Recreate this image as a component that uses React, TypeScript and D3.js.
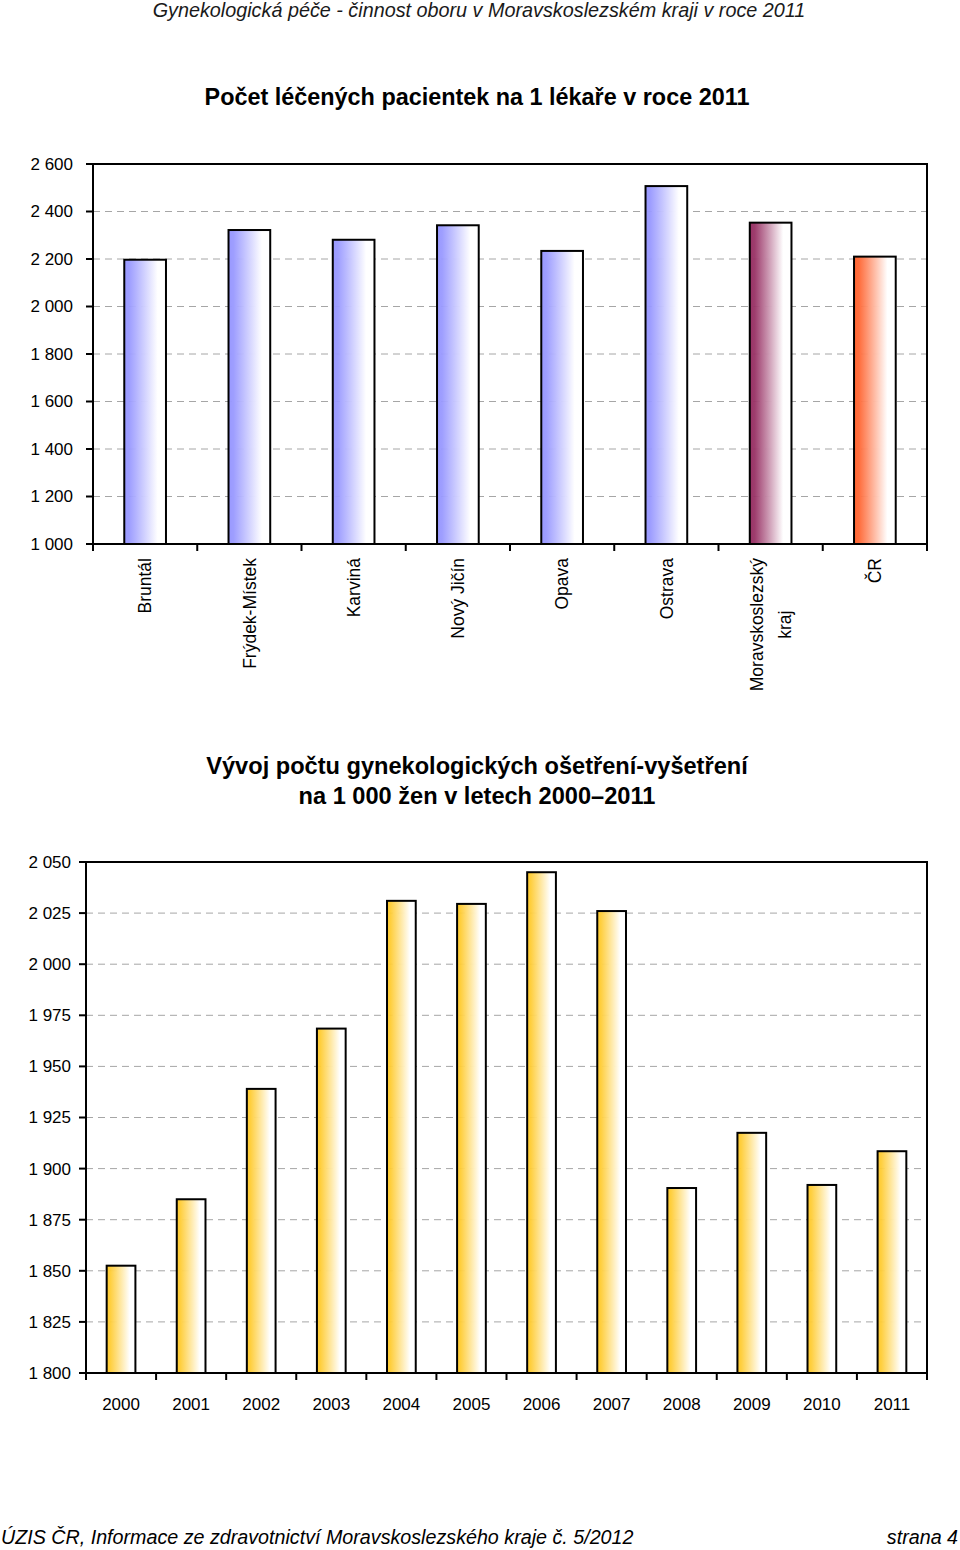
import React, { useEffect, useRef } from "react";
import * as d3 from "d3";

// ---------- Data ----------
const districts = ["Bruntál", "Frýdek-Místek", "Karviná", "Nový Jičín", "Opava", "Ostrava", "Moravskoslezský\nkraj", "ČR"];
const patientsPerDoctor = [2197, 2322, 2281, 2342, 2234, 2507, 2353, 2210];
const districtColors = ["#9999ff", "#9999ff", "#9999ff", "#9999ff", "#9999ff", "#9999ff", "#993366", "#ff6633"];
const chart1Ticks = [1000, 1200, 1400, 1600, 1800, 2000, 2200, 2400, 2600];

const years = ["2000", "2001", "2002", "2003", "2004", "2005", "2006", "2007", "2008", "2009", "2010", "2011"];
const examsPer1000 = [1852.5, 1885, 1939, 1968.5, 2031, 2029.5, 2045, 2026, 1890.5, 1917.5, 1892, 1908.5];
const chart2Ticks = [1800, 1825, 1850, 1875, 1900, 1925, 1950, 1975, 2000, 2025, 2050];

const headerText = "Gynekologická péče - činnost oboru v Moravskoslezském kraji v roce 2011";
const title1 = "Počet léčených pacientek na 1 lékaře v roce 2011";
const title2Lines = ["Vývoj počtu gynekologických ošetření-vyšetření", "na 1 000 žen v letech 2000–2011"];
const footerLeft = "ÚZIS ČR, Informace ze zdravotnictví Moravskoslezského kraje č. 5/2012";
const footerRight = "strana 4";

const FONT = "'Liberation Sans', Arial, sans-serif";
const fmt = d3.formatLocale({ thousands: " ", grouping: [3], decimal: ",", currency: ["", ""] }).format(",");

export default function App() {
  const ref = useRef<SVGSVGElement | null>(null);

  useEffect(() => {
    const svg = d3.select(ref.current);
    svg.selectAll("*").remove();
    const defs = svg.append("defs");

    const makeGrad = (id: string, color: string) => {
      const g = defs.append("linearGradient").attr("id", id).attr("x1", "0").attr("x2", "1").attr("y1", "0").attr("y2", "0");
      g.append("stop").attr("offset", "0").attr("stop-color", color);
      g.append("stop").attr("offset", "0.12").attr("stop-color", color).attr("stop-opacity", 0.95);
      g.append("stop").attr("offset", "0.8").attr("stop-color", "#ffffff");
      g.append("stop").attr("offset", "1").attr("stop-color", "#ffffff");
    };

    // Header
    svg.append("text").attr("x", 479).attr("y", 17).attr("text-anchor", "middle")
      .attr("font-family", FONT).attr("font-style", "italic").attr("font-size", 19.8).attr("fill", "#1a1a1a").text(headerText);

    // ---------- Chart 1 ----------
    svg.append("text").attr("x", 477).attr("y", 105).attr("text-anchor", "middle")
      .attr("font-family", FONT).attr("font-weight", "bold").attr("font-size", 23.4).attr("fill", "#000").text(title1);

    const L1 = 93, R1 = 927, T1 = 164, B1 = 544;
    const x1 = d3.scaleBand<string>().domain(districts).range([L1, R1]).paddingInner(0.6).paddingOuter(0.3);
    const xb1 = d3.scaleBand<string>().domain(districts).range([L1, R1]);
    const y1 = d3.scaleLinear().domain([1000, 2600]).range([B1, T1]);

    const g1 = svg.append("g");
    chart1Ticks.filter(t => t > 1000 && t < 2600).forEach(t => {
      g1.append("line").attr("x1", L1).attr("x2", R1).attr("y1", y1(t)).attr("y2", y1(t))
        .attr("stroke", "#a6a6a6").attr("stroke-width", 1).attr("stroke-dasharray", "7,5");
    });
    g1.append("path").attr("d", `M${L1},${B1}V${T1}H${R1}V${B1}`).attr("fill", "none").attr("stroke", "#000").attr("stroke-width", 2);
    districts.forEach((d, i) => {
      makeGrad(`g1_${i}`, districtColors[i]);
      g1.append("rect").attr("x", x1(d)!).attr("width", x1.bandwidth())
        .attr("y", y1(patientsPerDoctor[i])).attr("height", B1 - y1(patientsPerDoctor[i]))
        .attr("fill", `url(#g1_${i})`).attr("stroke", "#000").attr("stroke-width", 2);
    });
    g1.append("line").attr("x1", L1).attr("x2", R1 + 1).attr("y1", B1).attr("y2", B1).attr("stroke", "#000").attr("stroke-width", 2);
    chart1Ticks.forEach(t => {
      g1.append("line").attr("x1", L1 - 7).attr("x2", L1).attr("y1", y1(t)).attr("y2", y1(t)).attr("stroke", "#000").attr("stroke-width", 2);
      g1.append("text").attr("x", 73).attr("y", y1(t)).attr("dy", "0.35em").attr("text-anchor", "end")
        .attr("font-family", FONT).attr("font-size", 17).attr("fill", "#000").text(fmt(t));
    });
    districts.forEach(d => {
      g1.append("line").attr("x1", xb1(d)!).attr("x2", xb1(d)!).attr("y1", B1).attr("y2", B1 + 7).attr("stroke", "#000").attr("stroke-width", 2);
    });
    g1.append("line").attr("x1", R1).attr("x2", R1).attr("y1", B1).attr("y2", B1 + 7).attr("stroke", "#000").attr("stroke-width", 2);
    districts.forEach(d => {
      const cx = xb1(d)! + xb1.bandwidth() / 2;
      const lines = d.split("\n");
      const tg = g1.append("g").attr("transform", `translate(${cx},558) rotate(-90)`);
      if (lines.length === 1) {
        tg.append("text").attr("x", 0).attr("y", 0).attr("dy", "0.35em").attr("text-anchor", "end")
          .attr("font-family", FONT).attr("font-size", 17.5).attr("fill", "#000").text(lines[0]);
      } else {
        const first = tg.append("text").attr("x", 0).attr("y", -14).attr("dy", "0.35em").attr("text-anchor", "end")
          .attr("font-family", FONT).attr("font-size", 17.5).attr("fill", "#000").text(lines[0]);
        const w = (first.node() as SVGTextElement).getComputedTextLength();
        for (let k = 1; k < lines.length; k++) {
          tg.append("text").attr("x", -w / 2).attr("y", -14 + 28 * k).attr("dy", "0.35em").attr("text-anchor", "middle")
            .attr("font-family", FONT).attr("font-size", 17.5).attr("fill", "#000").text(lines[k]);
        }
      }
    });

    // ---------- Chart 2 ----------
    title2Lines.forEach((t, i) => {
      svg.append("text").attr("x", 477).attr("y", 774 + 30 * i).attr("text-anchor", "middle")
        .attr("font-family", FONT).attr("font-weight", "bold").attr("font-size", 23.6).attr("fill", "#000").text(t);
    });

    const L2 = 86, R2 = 927, T2 = 862, B2 = 1373;
    const x2 = d3.scaleBand<string>().domain(years).range([L2, R2]).paddingInner(0.59).paddingOuter(0.295);
    const xb2 = d3.scaleBand<string>().domain(years).range([L2, R2]);
    const y2 = d3.scaleLinear().domain([1800, 2050]).range([B2, T2]);
    makeGrad("g2", "#ffcc33");

    const g2 = svg.append("g");
    chart2Ticks.filter(t => t > 1800 && t < 2050).forEach(t => {
      g2.append("line").attr("x1", L2).attr("x2", R2).attr("y1", y2(t)).attr("y2", y2(t))
        .attr("stroke", "#a6a6a6").attr("stroke-width", 1).attr("stroke-dasharray", "7,5");
    });
    g2.append("path").attr("d", `M${L2},${B2}V${T2}H${R2}V${B2}`).attr("fill", "none").attr("stroke", "#000").attr("stroke-width", 2);
    years.forEach((yr, i) => {
      g2.append("rect").attr("x", x2(yr)!).attr("width", x2.bandwidth())
        .attr("y", y2(examsPer1000[i])).attr("height", B2 - y2(examsPer1000[i]))
        .attr("fill", "url(#g2)").attr("stroke", "#000").attr("stroke-width", 2);
    });
    g2.append("line").attr("x1", L2).attr("x2", R2 + 1).attr("y1", B2).attr("y2", B2).attr("stroke", "#000").attr("stroke-width", 2);
    chart2Ticks.forEach(t => {
      g2.append("line").attr("x1", L2 - 7).attr("x2", L2).attr("y1", y2(t)).attr("y2", y2(t)).attr("stroke", "#000").attr("stroke-width", 2);
      g2.append("text").attr("x", 71).attr("y", y2(t)).attr("dy", "0.35em").attr("text-anchor", "end")
        .attr("font-family", FONT).attr("font-size", 17).attr("fill", "#000").text(fmt(t));
    });
    years.forEach(yr => {
      g2.append("line").attr("x1", xb2(yr)!).attr("x2", xb2(yr)!).attr("y1", B2).attr("y2", B2 + 7).attr("stroke", "#000").attr("stroke-width", 2);
      g2.append("text").attr("x", xb2(yr)! + xb2.bandwidth() / 2).attr("y", 1404).attr("dy", "0.35em").attr("text-anchor", "middle")
        .attr("font-family", FONT).attr("font-size", 17).attr("fill", "#000").text(yr);
    });
    g2.append("line").attr("x1", R2).attr("x2", R2).attr("y1", B2).attr("y2", B2 + 7).attr("stroke", "#000").attr("stroke-width", 2);

    // Footer
    svg.append("text").attr("x", 1).attr("y", 1544).attr("font-family", FONT).attr("font-style", "italic")
      .attr("font-size", 19.7).attr("fill", "#000").text(footerLeft);
    svg.append("text").attr("x", 958).attr("y", 1544).attr("text-anchor", "end").attr("font-family", FONT).attr("font-style", "italic")
      .attr("font-size", 19.7).attr("fill", "#000").text(footerRight);
  }, []);

  return (
    <div style={{ position: "absolute", left: 0, top: 0, width: 960, height: 1550, background: "#fff" }}>
      <svg ref={ref} width={960} height={1550} style={{ display: "block" }} />
    </div>
  );
}
